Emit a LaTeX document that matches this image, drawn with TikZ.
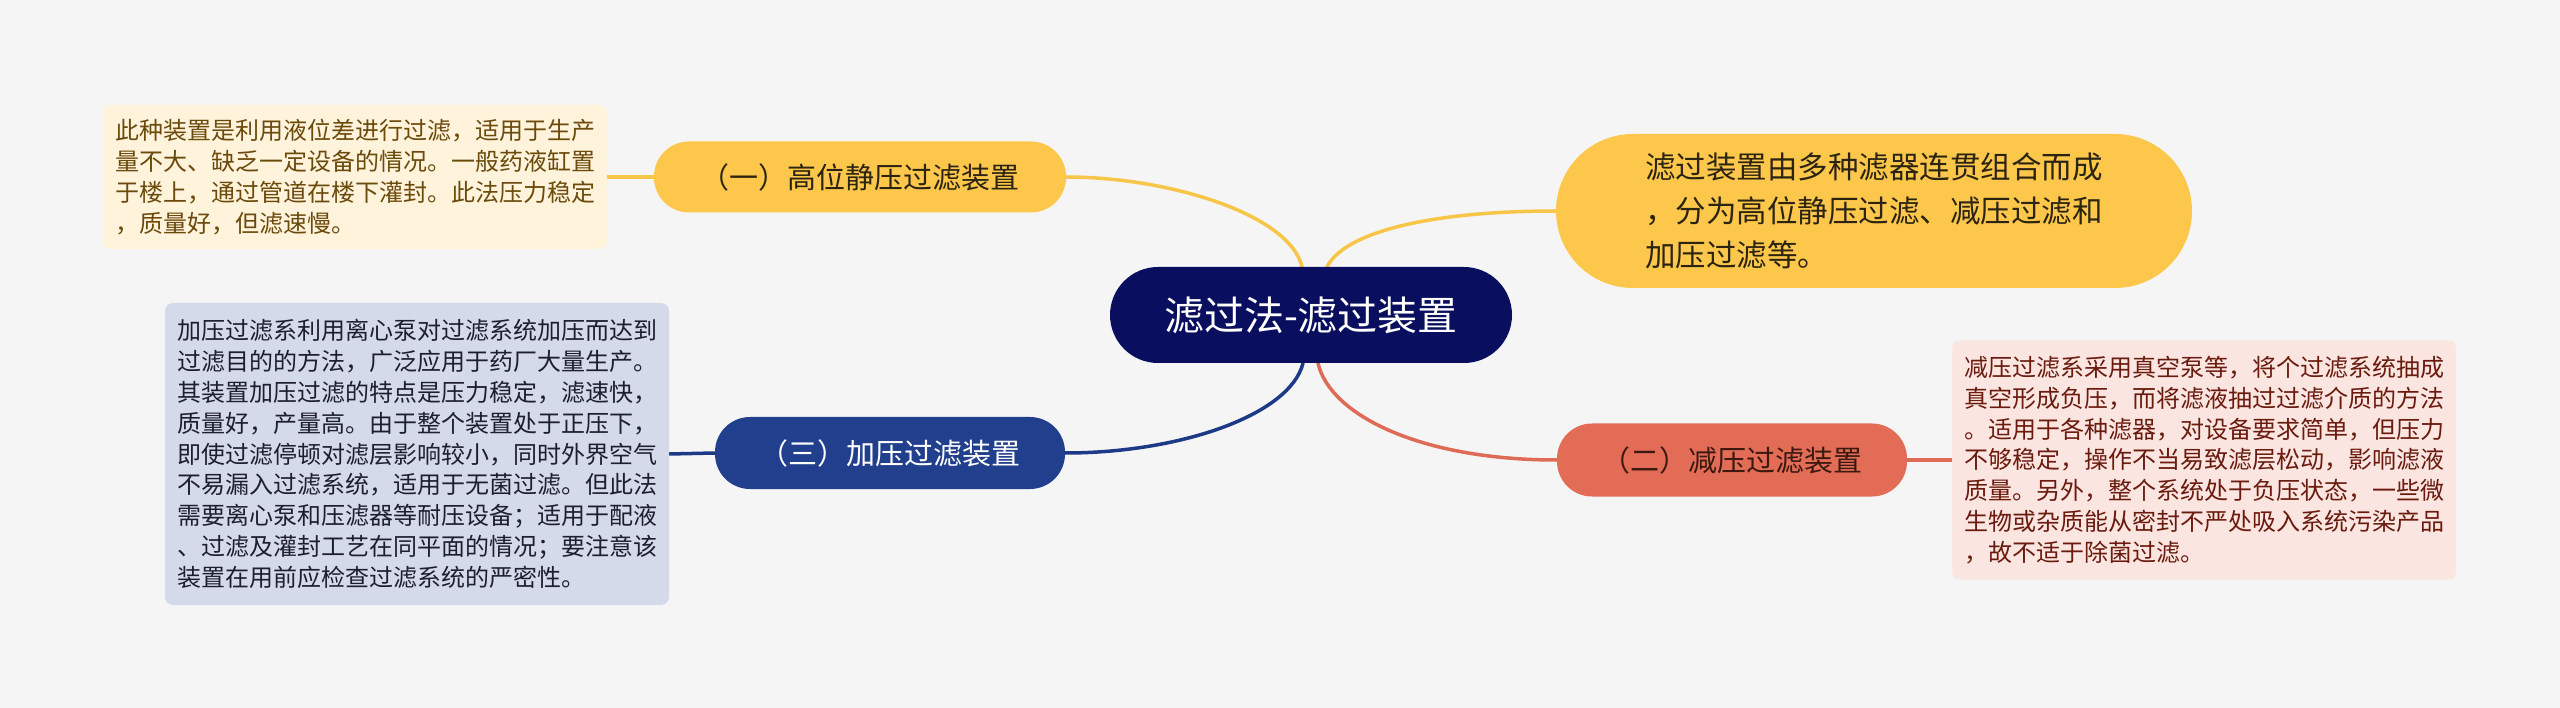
\documentclass[tikz,border=0pt]{standalone}
\usepackage{fontspec}
\setmainfont{Noto Sans CJK SC}
\pgfdeclarelayer{bgfill}
\pgfdeclarelayer{edges}
\pgfsetlayers{bgfill,edges,main}
\definecolor{bgc}{HTML}{F5F5F5}
\definecolor{yel}{HTML}{FDC74B}
\definecolor{yelline}{HTML}{F7C548}
\definecolor{yelnote}{HTML}{FFF3DB}
\definecolor{yelnotetext}{HTML}{6B4A0B}
\definecolor{yeltext}{HTML}{2B2411}
\definecolor{navy}{HTML}{0A0E5E}
\definecolor{blu}{HTML}{213F8D}
\definecolor{bluline}{HTML}{1D3A86}
\definecolor{bluenote}{HTML}{D4DAEA}
\definecolor{bluenotetext}{HTML}{1E1E2E}
\definecolor{rd}{HTML}{E36C56}
\definecolor{rdline}{HTML}{DD6B55}
\definecolor{rednote}{HTML}{FAE5E0}
\definecolor{rednotetext}{HTML}{6B1A0E}
\definecolor{rdtext}{HTML}{3B1810}
\begin{document}
\begin{tikzpicture}[x=1pt,y=-1pt,
  topic/.style={rectangle, rounded corners=35pt, minimum height=71pt, inner sep=0pt,
    align=center, font=\fontsize{29pt}{34pt}\selectfont},
  note/.style={rectangle, rounded corners=8pt, text width=480pt, inner xsep=12pt,
    inner ysep=0pt, align=left, font=\fontsize{24pt}{30.8pt}\selectfont},
  conn/.style={line width=3.5pt, line cap=round}]
\begin{pgfonlayer}{bgfill}
\fill[bgc] (0,0) rectangle (2560,708);
\end{pgfonlayer}
\useasboundingbox (0,0) rectangle (2560,708);

% central
\node[rectangle, rounded corners=48pt, fill=navy, text=white, minimum width=402pt,
  minimum height=96pt, inner sep=0pt, font=\fontsize{40pt}{46pt}\selectfont]
  (C) at (1311,315) {滤过法-滤过装置};

% top-right summary
\node[rectangle, rounded corners=77pt, fill=yel, text=yeltext, minimum width=636pt,
  minimum height=154pt, inner sep=0pt, align=left,
  font=\fontsize{30.5pt}{44pt}\selectfont] (tr) at (1874,211)
  {滤过装置由多种滤器连贯组合而成\\，分为高位静压过滤、减压过滤和\\加压过滤等。};

% branch 1
\node[topic, fill=yel, text=yeltext, minimum width=412pt] (n1) at (860,177)
  {（一）高位静压过滤装置};
\node[note, fill=yelnote, text=yelnotetext, minimum height=144pt] (b1) at (355,177)
  {此种装置是利用液位差进行过滤，适用于生产\\
   量不大、缺乏一定设备的情况。一般药液缸置\\
   于楼上，通过管道在楼下灌封。此法压力稳定\\
   ，质量好，但滤速慢。};

% branch 3
\node[topic, fill=blu, text=white, minimum width=350pt, minimum height=72pt] (n3) at (890,453)
  {（三）加压过滤装置};
\node[note, fill=bluenote, text=bluenotetext, minimum height=302pt] (b3) at (417,454)
  {加压过滤系利用离心泵对过滤系统加压而达到\\
   过滤目的的方法，广泛应用于药厂大量生产。\\
   其装置加压过滤的特点是压力稳定，滤速快，\\
   质量好，产量高。由于整个装置处于正压下，\\
   即使过滤停顿对滤层影响较小，同时外界空气\\
   不易漏入过滤系统，适用于无菌过滤。但此法\\
   需要离心泵和压滤器等耐压设备；适用于配液\\
   、过滤及灌封工艺在同平面的情况；要注意该\\
   装置在用前应检查过滤系统的严密性。};

% branch 2
\node[topic, fill=rd, text=rdtext, minimum width=350pt, minimum height=73pt] (n2) at (1732,460)
  {（二）减压过滤装置};
\node[note, fill=rednote, text=rednotetext, minimum height=239pt] (b2) at (2204,460)
  {减压过滤系采用真空泵等，将个过滤系统抽成\\
   真空形成负压，而将滤液抽过过滤介质的方法\\
   。适用于各种滤器，对设备要求简单，但压力\\
   不够稳定，操作不当易致滤层松动，影响滤液\\
   质量。另外，整个系统处于负压状态，一些微\\
   生物或杂质能从密封不严处吸入系统污染产品\\
   ，故不适于除菌过滤。};

\begin{pgfonlayer}{edges}
\draw[conn, yelline] ([xshift=-9pt]C.north) .. controls (1290,215) and (1170,177) .. (n1.east);
\draw[conn, yelline] ([xshift=16pt]C.north) .. controls (1345,232) and (1430,211) .. (tr.west);
\draw[conn, bluline] ([xshift=-8pt]C.south) .. controls (1290,415) and (1180,453) .. (n3.east);
\draw[conn, rdline] ([xshift=7pt]C.south) .. controls (1330,415) and (1420,460) .. (n2.west);
\draw[conn, yelline] (n1.west) -- (b1.east);
\draw[conn, bluline] (n3.west) -- (b3.east);
\draw[conn, rdline] (n2.east) -- (b2.west);
\end{pgfonlayer}
\end{tikzpicture}
\end{document}
